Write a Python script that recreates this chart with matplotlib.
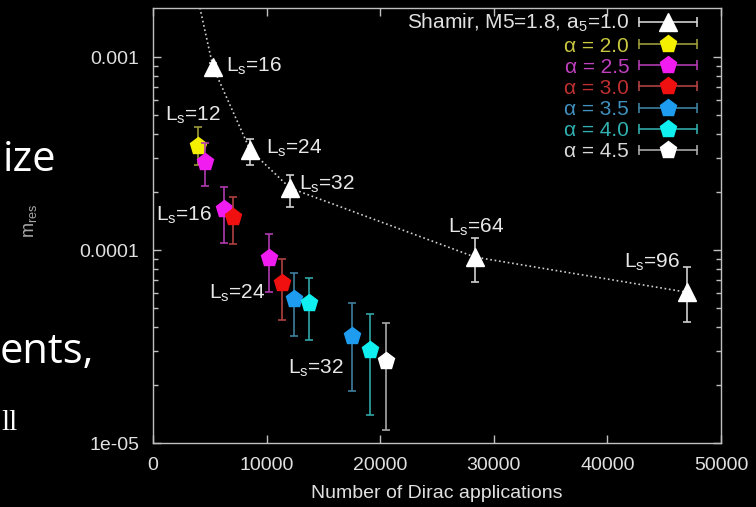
import numpy as np
import matplotlib
matplotlib.use('Agg')
import matplotlib.pyplot as plt
from matplotlib.lines import Line2D
from matplotlib.legend_handler import HandlerBase
from matplotlib.ticker import FixedLocator, LogLocator, NullFormatter, FixedFormatter

plt.rcParams.update({
    'font.family': ['Liberation Sans', 'DejaVu Sans'],
    'mathtext.fontset': 'custom',
    'mathtext.rm': 'Liberation Sans',
    'mathtext.it': 'Liberation Sans',
    'mathtext.bf': 'Liberation Sans:bold',
})

# Shamir reference (white triangles)
shamir_x = [5280, 8540, 12060, 28350, 47000]
shamir_y = [8.9e-4, 3.31e-4, 2.10e-4, 9.2e-5, 6.05e-5]
shamir_hi = [9.3e-4, 3.77e-4, 2.46e-4, 1.15e-4, 8.2e-5]
shamir_lo = [8.5e-4, 2.76e-4, 1.68e-4, 6.8e-5, 4.24e-5]
# dotted curve also comes down from the Ls=12 point above the plotted range
curve_x = [3960] + shamir_x
curve_y = [2.0e-3] + shamir_y

# alpha series (pentagons)
alphas = ['2.0', '2.5', '3.0', '3.5', '4.0', '4.5']
alpha_x = [[3960], [4580, 6250, 10210], [7040, 11360],
           [12410, 17520], [13730, 19100], [20510]]
alpha_y = [[3.47e-4], [2.87e-4, 1.64e-4, 9.1e-5], [1.49e-4, 6.74e-5],
           [5.57e-5, 3.58e-5], [5.31e-5, 3.03e-5], [2.66e-5]]
alpha_hi = [[4.35e-4], [3.6e-4, 2.13e-4, 1.21e-4], [1.89e-4, 8.98e-5],
            [7.57e-5, 5.3e-5], [7.16e-5, 4.65e-5], [4.19e-5]]
alpha_lo = [[2.77e-4], [2.16e-4, 1.09e-4, 6.1e-5], [1.08e-4, 4.34e-5],
            [3.58e-5, 1.86e-5], [3.42e-5, 1.4e-5], [1.17e-5]]

face_colors = ['#f5f000', '#f01cf0', '#f01010', '#1e9cf0', '#10f0f0', '#ffffff']
bar_colors = ['#9a9a3a', '#b03ab0', '#b04040', '#3f7f9f', '#30a8a8', '#a8a8a8']
text_colors = ['#c8c840', '#c040c0', '#c03030', '#4090c0', '#30b0b0', '#d8d8d8']

# L_s annotations
ls_labels = ['16', '24', '32', '64', '96', '12', '16', '24', '32']
label_x = [6426, 9947, 12879, 25941, 41487, 1056, 264, 4956, 11910]
label_y = [8.42e-4, 3.155e-4, 2.053e-4, 1.225e-4, 8.06e-5,
           4.69e-4, 1.423e-4, 5.59e-5, 2.285e-5]

y_ticks = [1e-5, 1e-4, 1e-3]
y_ticklabels = ['1e-05', '0.0001', '0.001']
x_ticks = [0, 10000, 20000, 30000, 40000, 50000]


class CappedHandle(HandlerBase):
    """gnuplot style key sample: |---marker---|"""

    def create_artists(self, legend, orig, xdescent, ydescent, width, height, fontsize, trans):
        y = height / 2 - ydescent
        x0, x1 = -xdescent, -xdescent + width
        bar = Line2D([x0, x1], [y, y], color=orig.get_color(), lw=1.2)
        caps = Line2D([x0, x1], [y, y], ls='none', marker='|', ms=7, mew=1.2,
                      color=orig.get_color())
        mk = Line2D([(x0 + x1) / 2], [y], ls='none', marker=orig.get_marker(),
                    ms=orig.get_markersize(), mfc=orig.get_markerfacecolor(),
                    mec=orig.get_markerfacecolor())
        for a in (bar, caps, mk):
            a.set_transform(trans)
        return [bar, caps, mk]


fig = plt.figure(figsize=(7.56, 5.07), dpi=100, facecolor='black')
ax = fig.add_axes([153 / 756, 1 - 443 / 507, 568 / 756, 435 / 507])
ax.set_facecolor('black')

ax.plot(curve_x, curve_y, ls=':', lw=1.2, color='#d0d0d0', zorder=2)
ax.errorbar(shamir_x, shamir_y,
            yerr=[np.array(shamir_y) - np.array(shamir_lo), np.array(shamir_hi) - np.array(shamir_y)],
            fmt='^', ms=12.5, color='white', mec='white', ecolor='#d0d0d0',
            elinewidth=1.2, capsize=3, capthick=1.2, zorder=3)

for i in range(len(alphas)):
    y = np.array(alpha_y[i])
    ax.errorbar(alpha_x[i], y,
                yerr=[y - np.array(alpha_lo[i]), np.array(alpha_hi[i]) - y],
                fmt='p', ms=12.5, color=face_colors[i], mec=face_colors[i],
                ecolor=bar_colors[i], elinewidth=1.2, capsize=3, capthick=1.2,
                zorder=4 + i)

for lab, lx, ly in zip(ls_labels, label_x, label_y):
    ax.text(lx, ly, f'L$_s$={lab}', color='#e8e8e8', fontsize=15, va='baseline', ha='left')

ax.set_yscale('log')
ax.set_xlim(0, 50000)
ax.set_ylim(1e-5, 1.8e-3)
ax.xaxis.set_major_locator(FixedLocator(x_ticks))
ax.yaxis.set_major_locator(FixedLocator(y_ticks))
ax.yaxis.set_major_formatter(FixedFormatter(y_ticklabels))
ax.yaxis.set_minor_locator(LogLocator(base=10, subs=np.arange(2, 10)))
ax.yaxis.set_minor_formatter(NullFormatter())

for s in ax.spines.values():
    s.set_color('#c0c0c0')
    s.set_linewidth(1.0)
ax.tick_params(which='both', direction='in', top=True, right=True, color='#c0c0c0',
               labelcolor='#e0e0e0', labelsize=14, pad=10)
ax.tick_params(which='major', length=6, width=1)
ax.tick_params(which='minor', length=3.5, width=1)

ax.set_xlabel('Number of Dirac applications', fontsize=14, color='#e0e0e0')
ax.xaxis.set_label_coords(0.5, -0.097)
ax.set_ylabel('m$_{res}$', fontsize=13, color='#a8a8a8')
ax.yaxis.set_label_coords(-0.2, 0.51)

handles = [Line2D([], [], color='#d0d0d0', marker='^', ms=12.5, mfc='white')]
labels = ['Shamir, M5=1.8, a$_5$=1.0']
for i, a in enumerate(alphas):
    handles.append(Line2D([], [], color=bar_colors[i], marker='p', ms=12.5, mfc=face_colors[i]))
    labels.append(f'\u03b1 = {a}')
leg = ax.legend(handles, labels, loc='upper right', bbox_to_anchor=(0.965, 1.0),
                borderaxespad=0, borderpad=0.2, frameon=False, markerfirst=False,
                fontsize=15, labelspacing=0.1, handlelength=2.8, handletextpad=0.45,
                handler_map={Line2D: CappedHandle()})
leg_colors = ['#e0e0e0'] + text_colors
for t, c in zip(leg.get_texts(), leg_colors):
    t.set_color(c)

# remnants of the slide text on the left
fig.text(0.003, 1 - 171 / 507, 'ize', fontsize=30, family='Open Sans', color='white', va='baseline')
fig.text(0.0, 1 - 363 / 507, 'ents,', fontsize=30, family='Open Sans', color='white', va='baseline')
fig.text(0.002, 1 - 430 / 507, 'll', fontsize=21, family='Liberation Serif', color='white', va='baseline')

fig.savefig('out.png', dpi=100, facecolor='black')
